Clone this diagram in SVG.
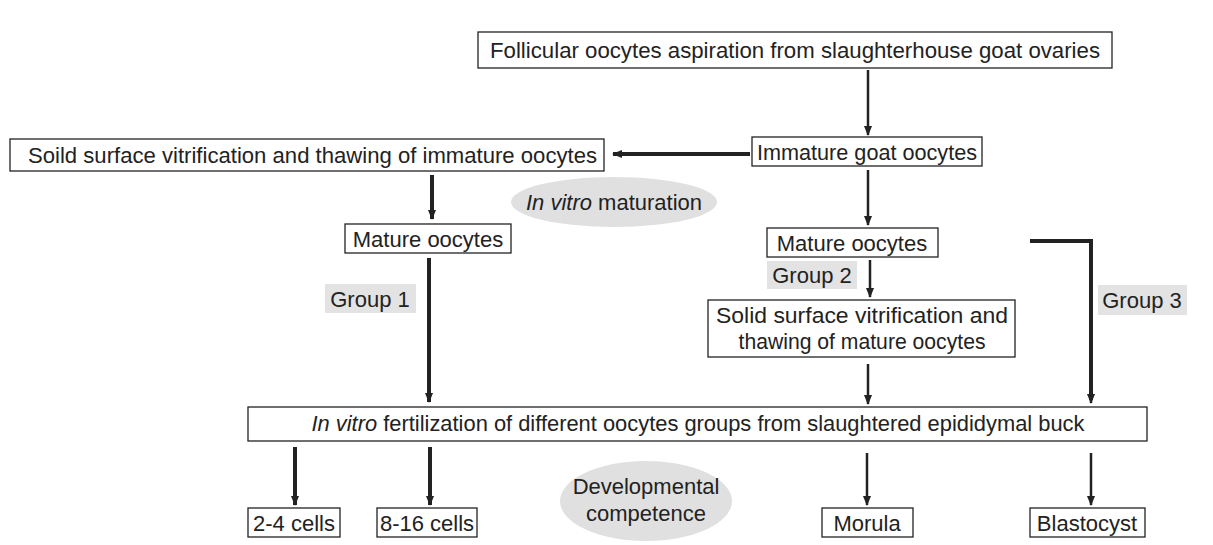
<svg xmlns="http://www.w3.org/2000/svg" width="1213" height="545" viewBox="0 0 1213 545">
<style>
.box{fill:#fff;stroke:#222;stroke-width:1.3}
.t{font-family:"Liberation Sans",Arial,sans-serif;font-size:22px;fill:#222}
.c{text-anchor:middle}
.lbl{fill:#e3e3e3}
.ell{fill:#e0e0e0}
.thick{stroke:#222;stroke-width:4;fill:none}
.thin{stroke:#222;stroke-width:2.5;fill:none}
</style>
<defs>
<marker id="ah" markerUnits="userSpaceOnUse" markerWidth="10" markerHeight="10" viewBox="0 0 10 10" refX="9" refY="5" orient="auto">
<path d="M0,1 L10,5 L0,9 Z" fill="#222"/>
</marker>
</defs>
<rect width="1213" height="545" fill="#fff"/>
<g id="connectors">
<line class="thin" x1="868" y1="70" x2="868" y2="135" marker-end="url(#ah)"/>
<line class="thick" x1="750" y1="154" x2="613" y2="154" marker-end="url(#ah)"/>
<line class="thick" x1="432" y1="175" x2="432" y2="219" marker-end="url(#ah)"/>
<line class="thin" x1="868" y1="170" x2="868" y2="225" marker-end="url(#ah)"/>
<line class="thick" x1="429" y1="258" x2="429" y2="402" marker-end="url(#ah)"/>
<line class="thin" x1="870" y1="260" x2="870" y2="297" marker-end="url(#ah)"/>
<line class="thin" x1="868" y1="364" x2="868" y2="404" marker-end="url(#ah)"/>
<polyline class="thick" points="1030,241 1091,241 1091,400" />
<line class="thin" x1="1091" y1="390" x2="1091" y2="403" marker-end="url(#ah)"/>
<line class="thick" x1="295" y1="447" x2="295" y2="505" marker-end="url(#ah)"/>
<line class="thick" x1="430" y1="447" x2="430" y2="505" marker-end="url(#ah)"/>
<line class="thin" x1="867" y1="453" x2="867" y2="505" marker-end="url(#ah)"/>
<line class="thin" x1="1091" y1="453" x2="1091" y2="505" marker-end="url(#ah)"/>
</g>
<g id="n-top"><rect class="box" x="478" y="32" width="634" height="36"/><text class="t c" x="795" y="58" textLength="610" lengthAdjust="spacingAndGlyphs">Follicular oocytes aspiration from slaughterhouse goat ovaries</text></g>
<g id="n-immature"><rect class="box" x="752" y="137" width="230" height="29"/><text class="t c" x="867" y="160" textLength="220" lengthAdjust="spacingAndGlyphs">Immature goat oocytes</text></g>
<g id="n-soild"><rect class="box" x="10" y="139" width="594" height="32"/><text class="t" x="28" y="163" textLength="569" lengthAdjust="spacingAndGlyphs">Soild surface vitrification and thawing of immature oocytes</text></g>
<g id="n-ivm"><ellipse class="ell" cx="614" cy="202" rx="103" ry="25"/><text class="t c" x="614" y="210"><tspan font-style="italic">In vitro</tspan> maturation</text></g>
<g id="n-mature-l"><rect class="box" x="345" y="224" width="166" height="29"/><text class="t c" x="428" y="247">Mature oocytes</text></g>
<g id="n-mature-r"><rect class="box" x="767" y="228" width="171" height="29"/><text class="t c" x="852" y="251">Mature oocytes</text></g>
<g id="n-g1"><rect class="lbl" x="325" y="284" width="91" height="29"/><text class="t c" x="370" y="307">Group 1</text></g>
<g id="n-g2"><rect class="lbl" x="767" y="261" width="90" height="28"/><text class="t c" x="812" y="283">Group 2</text></g>
<g id="n-g3"><rect class="lbl" x="1098" y="285" width="89" height="30"/><text class="t c" x="1142" y="308">Group 3</text></g>
<g id="n-solid"><rect class="box" x="708" y="300" width="307" height="57"/><text class="t c" x="862" y="323" textLength="292" lengthAdjust="spacingAndGlyphs">Solid surface vitrification and</text><text class="t c" x="862" y="349" textLength="247" lengthAdjust="spacingAndGlyphs">thawing of mature oocytes</text></g>
<g id="n-ivf"><rect class="box" x="248" y="407" width="899" height="34"/><text class="t c" x="698" y="431" textLength="773" lengthAdjust="spacingAndGlyphs"><tspan font-style="italic">In vitro</tspan> fertilization of different oocytes groups from slaughtered epididymal buck</text></g>
<g id="n-dev"><ellipse class="ell" cx="646" cy="501" rx="86" ry="40"/><text class="t c" x="646" y="494">Developmental</text><text class="t c" x="646" y="521">competence</text></g>
<g id="n-24"><rect class="box" x="248" y="508" width="92" height="29"/><text class="t c" x="294" y="531">2-4 cells</text></g>
<g id="n-816"><rect class="box" x="377" y="508" width="100" height="29"/><text class="t c" x="427" y="531">8-16 cells</text></g>
<g id="n-morula"><rect class="box" x="822" y="508" width="91" height="29"/><text class="t c" x="867" y="531">Morula</text></g>
<g id="n-blasto"><rect class="box" x="1030" y="508" width="115" height="29"/><text class="t c" x="1087" y="531">Blastocyst</text></g>
</svg>
